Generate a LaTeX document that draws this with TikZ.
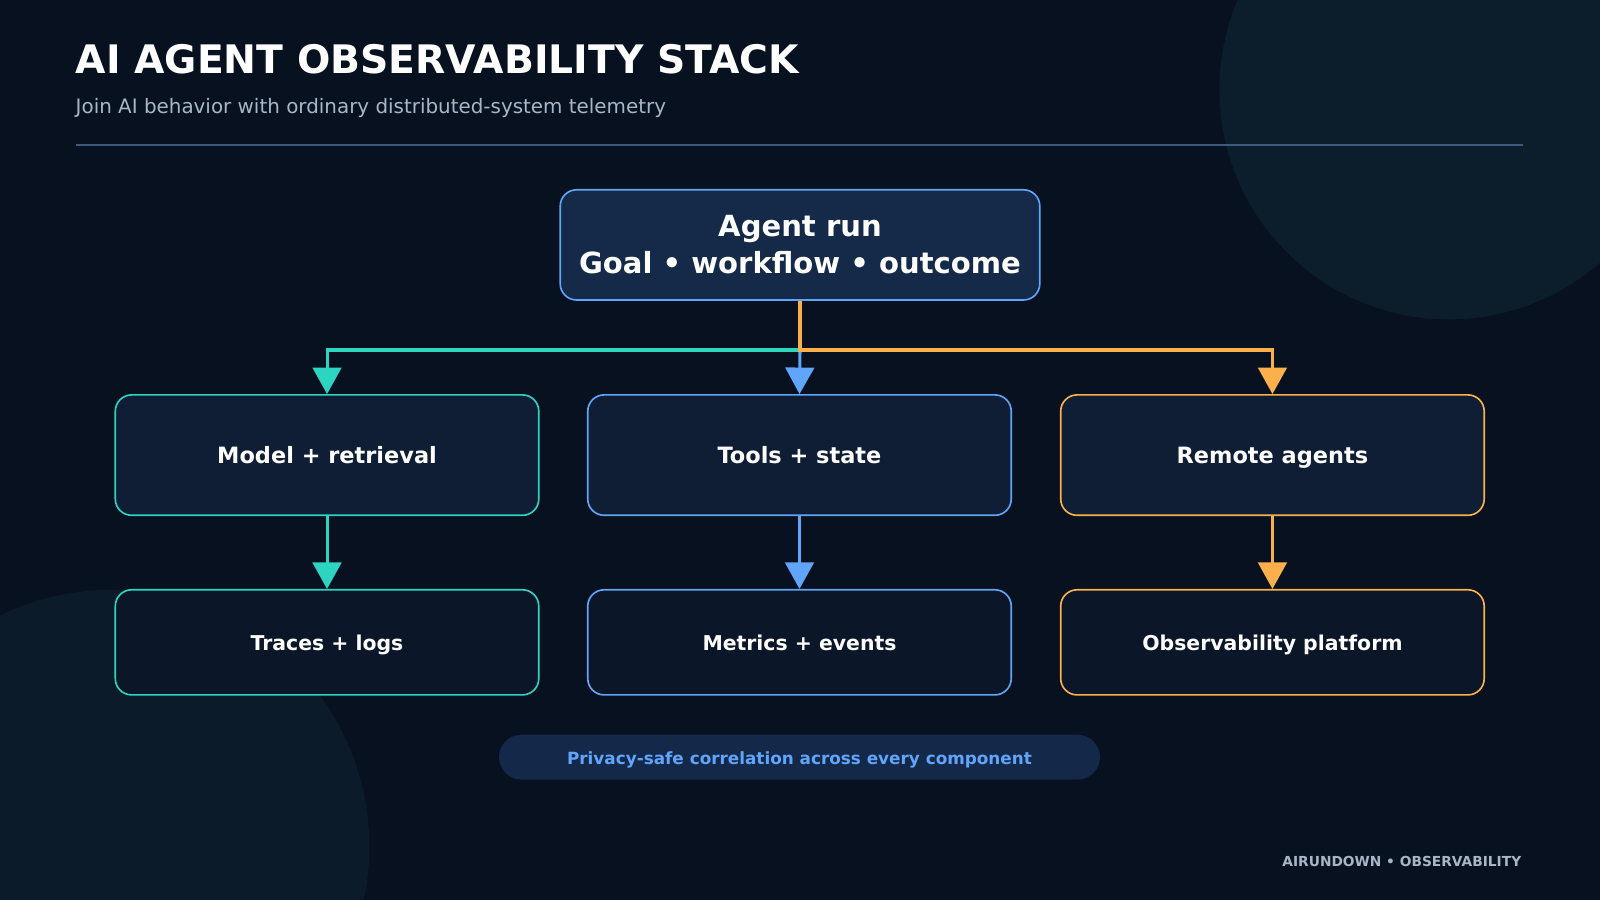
\documentclass[tikz,border=0pt]{standalone}
\usepackage{fontspec}
\setmainfont{DejaVu Sans}
\usetikzlibrary{arrows.meta,positioning}
\definecolor{bgdark}{HTML}{08111F}
\definecolor{blobcol}{HTML}{0C1D2B}
\definecolor{tealc}{HTML}{2DD4BF}
\definecolor{bluec}{HTML}{60A5FA}
\definecolor{orangec}{HTML}{FBB04C}
\definecolor{subgray}{HTML}{A9B6C8}
\definecolor{rulec}{HTML}{3B5A80}
\definecolor{topfill}{HTML}{152A48}
\definecolor{midfill}{HTML}{0F1E35}
\definecolor{lowfill}{HTML}{0B1628}
\definecolor{pillfill}{HTML}{14284A}
\tikzset{>={Triangle[width=28pt,length=26pt]}}
\tikzset{
  box/.style={draw, line width=1.6pt, rounded corners=16pt, text=white,
    font=\bfseries, align=center, inner sep=0pt},
  midbox/.style={box, fill=midfill, minimum width=415pt, minimum height=118pt,
    font=\fontsize{22}{26}\bfseries, text height=19pt, text depth=2pt},
  lowbox/.style={box, fill=lowfill, minimum width=415pt, minimum height=103pt,
    font=\fontsize{20}{24}\bfseries, text height=17pt, text depth=1.5pt},
  link/.style={line width=3pt}
}
\begin{document}
\begin{tikzpicture}[x=1pt,y=-1pt]
  % background
  \fill[bgdark] (0,0) rectangle (1568,882);
  \useasboundingbox (0,0) rectangle (1568,882);
  \begin{scope}
    \clip (0,0) rectangle (1568,882);
    \fill[blobcol] (1420,88) circle (225);
    \fill[blobcol!85!bgdark] (110,830) circle (252);
  \end{scope}
  % header
  \node[anchor=base west, text=white, font=\fontsize{38.5}{42}\bfseries, inner sep=0pt] (title) at (74,72) {AI AGENT OBSERVABILITY STACK};
  \node[anchor=base west, text=subgray, font=\fontsize{19.5}{23}\selectfont, inner sep=0pt] (subtitle) at (74,111) {Join AI behavior with ordinary distributed-system telemetry};
  \draw[rulec, line width=1.2pt] (74,142) -- (1493,142);
  % boxes
  \node[box, draw=bluec, fill=topfill, minimum width=470pt, minimum height=108pt, font=\fontsize{28.5}{36}\bfseries] (run) at (784,240) {Agent run\\Goal • workflow • outcome};
  \node[midbox, draw=tealc] (model) at (320.5,446) {Model + retrieval};
  \node[midbox, draw=bluec] (tools) at (783.5,446) {Tools + state};
  \node[midbox, draw=orangec] (remote) at (1247,446) {Remote agents};
  \node[lowbox, draw=tealc] (traces) at (320.5,629.5) {Traces + logs};
  \node[lowbox, draw=bluec] (metrics) at (783.5,629.5) {Metrics + events};
  \node[lowbox, draw=orangec] (platform) at (1247,629.5) {Observability platform};
  % connectors
  \coordinate (split) at (784,343);
  \draw[link, tealc, ->] (split) -| (model.north);
  \draw[link, bluec, ->] (split) -- (tools.north);
  \draw[link, orangec, ->] (run.south) -- (split) -| (remote.north);
  \draw[link, tealc, ->] (model) -- (traces);
  \draw[link, bluec, ->] (tools) -- (metrics);
  \draw[link, orangec, ->] (remote) -- (platform);
  % footer
  \node[fill=pillfill, rounded corners=22pt, minimum width=589pt, minimum height=44pt, text=bluec, font=\fontsize{16.5}{19}\bfseries, text height=15pt, text depth=1pt] (pill) at (783.5,742) {Privacy-safe correlation across every component};
  \node[anchor=base east, text=subgray, font=\fontsize{13.5}{16}\bfseries, inner sep=0pt] (brand) at (1491,849) {AIRUNDOWN • OBSERVABILITY};
\end{tikzpicture}
\end{document}
